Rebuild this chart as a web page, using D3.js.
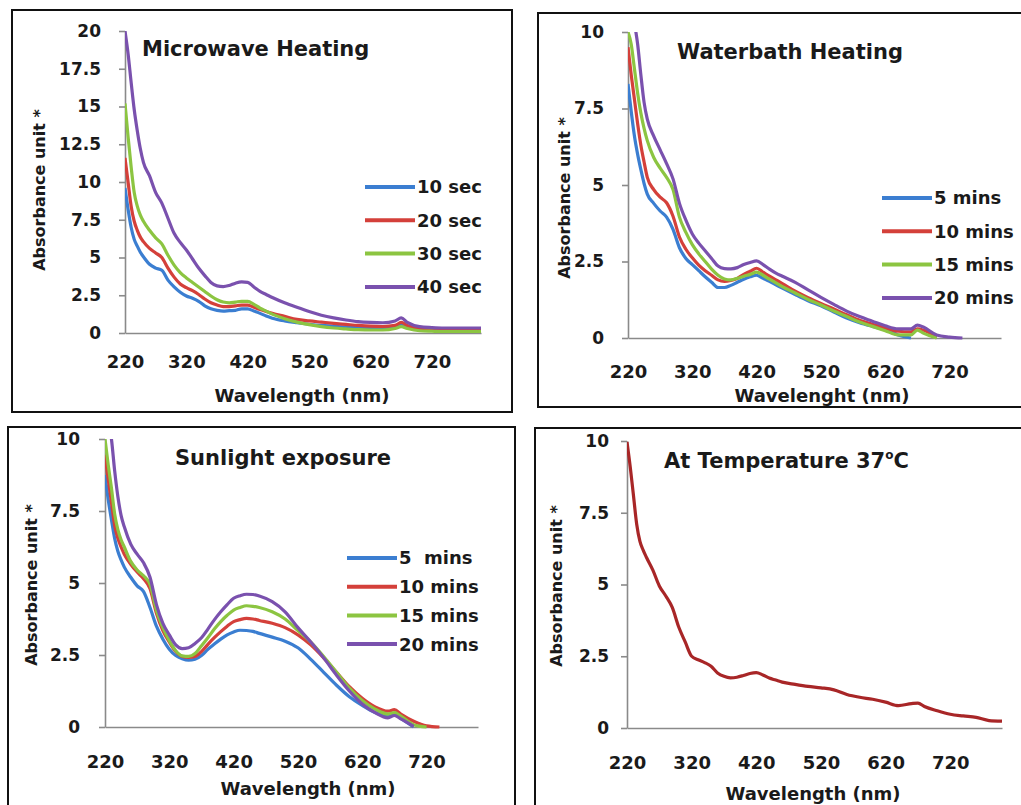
<!DOCTYPE html>
<html>
<head>
<meta charset="utf-8">
<script src="https://cdn.jsdelivr.net/npm/d3@7"></script>
<style>
  body { margin: 0; background: #fff; }
  svg text { font-family: "DejaVu Sans", sans-serif; font-weight: bold; fill: #1a1a1a; }
</style>
</head>
<body>
<div id="chart"></div>
<script>

// wavelength grid (nm) shared by every curve
var wavelength = [220,225,230,235,240,245,250,260,270,280,290,300,310,320,330,340,350,360,370,380,
  390,400,410,420,430,440,450,460,480,500,520,540,560,580,600,620,640,660,670,680,700,720,740,760,780,800];
var xTicks = [220,320,420,520,620,720];

// Microwave heating
var mw10 = [9.6,8.2,7.0,6.2,5.75,5.35,5.05, 4.55,4.3,4.15,3.5,3.05,2.7,2.45,2.3,2.1,1.8,1.6,1.5,1.45,1.48,1.5,1.6,1.6,1.45,1.3,1.12,0.98,
  0.8,0.68,0.58,0.5,0.45,0.4,0.38,0.35,0.33,0.4, 0.5,0.38, 0.3,0.28,0.27,0.27,0.27,0.27];
var mw20 = [11.6,10.0,8.4,7.4,6.8,6.35,6.05, 5.6,5.3,5.0,4.3,3.7,3.25,3.0,2.8,2.55,2.25,2.0,1.85,1.75,1.75,1.8,1.85,1.85,1.7,1.55,1.42,1.3,
  1.1,0.9,0.8,0.72,0.64,0.57,0.5,0.45,0.43,0.5, 0.7,0.5, 0.3,0.25,0.2,0.18,0.16,0.15];
var mw30 = [15.2,13.0,11.0,9.3,8.4,7.8,7.4, 6.8,6.3,5.9,5.15,4.5,4.0,3.65,3.35,3.05,2.75,2.45,2.2,2.05,2.0,2.05,2.1,2.1,1.9,1.65,1.45,1.25,
  0.95,0.72,0.55,0.42,0.33,0.27,0.22,0.2,0.2,0.3, 0.42,0.3, 0.15,0.12,0.1,0.1,0.1,0.1];
var mw40 = [20.0,18.5,16.6,14.8,13.4,12.2,11.3, 10.4,9.3,8.6,7.6,6.6,6.0,5.5,4.9,4.3,3.8,3.35,3.12,3.07,3.15,3.3,3.38,3.35,3.05,2.75,2.55,2.35,
  2.0,1.7,1.42,1.18,1.0,0.86,0.75,0.7,0.68,0.8, 1.0,0.7, 0.42,0.36,0.33,0.33,0.33,0.33];
var mwLabels = ["10 sec","20 sec","30 sec","40 sec"];
var mwTicks = [0,2.5,5,7.5,10,12.5,15,17.5,20];

// Waterbath heating
var wb5 = [8.3,7.4,6.6,6.0,5.5,5.05,4.7, 4.4,4.15,3.95,3.55,2.95,2.6,2.4,2.2,2.0,1.82,1.65,1.65,1.72,1.82,1.92,2.0,2.05,1.95,1.85,1.74,1.63,
  1.42,1.22,1.05,0.85,0.65,0.5,0.38,0.27,0.1,0.0, null,null, null,null,null,null,null,null];
var wb10 = [9.5,8.6,7.8,7.0,6.3,5.75,5.25, 4.85,4.6,4.42,3.98,3.3,2.9,2.62,2.38,2.2,2.05,1.9,1.85,1.88,1.95,2.08,2.18,2.28,2.15,2.02,1.9,1.78,
  1.53,1.32,1.13,0.95,0.76,0.58,0.45,0.33,0.22,0.2, 0.3,0.25, 0.02,null,null,null,null,null];
var wb15 = [10.0,9.6,8.8,8.0,7.35,6.85,6.45, 5.9,5.55,5.25,4.85,3.95,3.45,3.05,2.75,2.5,2.25,2.05,1.93,1.9,1.95,2.02,2.08,2.15,2.05,1.92,1.8,1.68,
  1.47,1.26,1.08,0.88,0.7,0.52,0.38,0.24,0.1,0.1, 0.26,0.15, 0.0,null,null,null,null,null];
var wb20 = [11.8,11.0,10.3,9.6,8.6,7.7,7.15, 6.6,6.15,5.7,5.2,4.4,3.85,3.4,3.1,2.85,2.6,2.35,2.27,2.26,2.3,2.4,2.47,2.52,2.4,2.25,2.12,2.02,
  1.82,1.57,1.33,1.1,0.88,0.7,0.55,0.4,0.3,0.3, 0.42,0.35, 0.1,0.03,0.0,null,null,null];
var wbLabels = ["5 mins","10 mins","15 mins","20 mins"];

// Sunlight exposure
var sl5 = [8.75,7.9,7.2,6.55,6.1,5.8,5.55, 5.2,4.9,4.7,4.15,3.5,3.05,2.7,2.48,2.37,2.32,2.35,2.48,2.7,2.88,3.05,3.2,3.3,3.36,3.35,3.32,3.25,
  3.12,2.98,2.75,2.35,1.9,1.45,1.05,0.75,0.5,0.38, 0.45,0.3, 0.0,null,null,null,null,null];
var sl10 = [9.45,8.6,7.8,7.0,6.55,6.25,6.0, 5.65,5.38,5.15,4.8,3.95,3.35,2.95,2.62,2.45,2.42,2.45,2.62,2.87,3.1,3.31,3.5,3.66,3.73,3.77,3.75,3.7,
  3.6,3.45,3.2,2.85,2.4,1.9,1.4,1.0,0.7,0.55, 0.6,0.45, 0.2,0.04,0.0,null,null,null];
var sl15 = [10.0,9.1,8.3,7.4,6.85,6.5,6.25, 5.75,5.45,5.25,4.95,4.05,3.45,3.0,2.65,2.47,2.45,2.55,2.82,3.1,3.4,3.66,3.88,4.06,4.15,4.21,4.19,4.15,
  4.0,3.75,3.35,2.95,2.45,1.9,1.35,0.92,0.62,0.45, 0.5,0.38, 0.08,0.0,null,null,null,null];
var sl20 = [11.5,10.6,10.0,8.9,8.0,7.35,6.95, 6.35,6.0,5.7,5.2,4.25,3.6,3.2,2.85,2.72,2.75,2.9,3.1,3.4,3.72,4.0,4.25,4.47,4.56,4.61,4.6,4.55,
  4.35,4.0,3.45,2.95,2.4,1.8,1.25,0.8,0.5,0.32, 0.4,0.28, 0.02,null,null,null,null,null];
var slLabels = ["5  mins","10 mins","15 mins","20 mins"];

// At temperature 37 C
var t37 = [9.97,9.1,8.1,7.1,6.5,6.2,5.95, 5.5,4.95,4.6,4.2,3.52,3.0,2.5,2.38,2.28,2.15,1.92,1.8,1.75,1.77,1.83,1.9,1.93,1.85,1.74,1.67,1.6,
  1.52,1.45,1.4,1.33,1.17,1.07,1.0,0.9,0.78,0.85, 0.87,0.75, 0.6,0.48,0.42,0.37,0.26,0.24];

var tenTicks = [0,2.5,5,7.5,10];
var fourColors = ["#3b7ed1","#d4403a","#8cc541","#7a51ae"];
var darkRed = "#a82627";

var svg = d3.select("#chart").append("svg")
  .attr("width", 1021)
  .attr("height", 805);

var panels = [
  { title: "Microwave Heating", xTitle: "Wavelength (nm)", yMax: 20, yTicks: mwTicks,
    series: [mw10, mw20, mw30, mw40], labels: mwLabels, colors: fourColors,
    frame: [12, 10, 500, 402], left: 125, right: 481, bottom: 333, top: 31,
    yPad: 18, xPad: 22, titlePos: [142, 56], xTitlePos: [302, 402], yTitlePos: [45, 190],
    legend: { x: 365, y: 187, step: 33.3 } },
  { title: "Waterbath Heating", xTitle: "Wavelenght (nm)", yMax: 10, yTicks: tenTicks,
    series: [wb5, wb10, wb15, wb20], labels: wbLabels, colors: fourColors,
    frame: [538, 13, 500, 394], left: 628, right: 1001, bottom: 338, top: 32,
    yPad: 18, xPad: 27, titlePos: [677, 59], xTitlePos: [822, 402], yTitlePos: [570, 198],
    legend: { x: 882, y: 198, step: 33.3 } },
  { title: "Sunlight exposure", xTitle: "Wavelength (nm)", yMax: 10, yTicks: tenTicks,
    series: [sl5, sl10, sl15, sl20], labels: slLabels, colors: fourColors,
    frame: [8, 427, 507, 400], left: 105, right: 478, bottom: 727, top: 439,
    yPad: 19, xPad: 28, titlePos: [175, 465], xTitlePos: [308, 795], yTitlePos: [37, 585],
    legend: { x: 347, y: 558, step: 28.7 } },
  { title: "At Temperature 37", xTitle: "Wavelength (nm)", yMax: 10, yTicks: tenTicks,
    series: [t37], labels: null, colors: [darkRed],
    frame: [535, 428, 500, 400], left: 627, right: 1002, bottom: 728, top: 441,
    yPad: 12, xPad: 28, titlePos: [664, 468], xTitlePos: [813, 800], yTitlePos: [562, 586],
    legend: null }
];

panels.forEach(function(p, pi) {

  var g = svg.append("g");

  g.append("rect")
    .attr("x", p.frame[0]).attr("y", p.frame[1])
    .attr("width", p.frame[2]).attr("height", p.frame[3])
    .attr("fill", "none")
    .attr("stroke", "#111")
    .attr("stroke-width", 2);

  var x = d3.scaleLinear().domain([220, 800]).range([p.left, p.right]);
  var y = d3.scaleLinear().domain([0, p.yMax]).range([p.bottom, p.top]);

  // y axis
  var yAxis = g.append("g")
    .attr("transform", "translate(" + p.left + ",0)")
    .call(d3.axisLeft(y).tickValues(p.yTicks).tickSize(6).tickSizeOuter(0).tickPadding(p.yPad)
      .tickFormat(function(d) { return d; }));
  yAxis.select(".domain").attr("stroke", "#8a8a8a").attr("stroke-width", 1.6);
  yAxis.selectAll(".tick line").attr("stroke", "#8a8a8a").attr("stroke-width", 1.6);
  yAxis.selectAll(".tick text")
    .style("font-size", "17px")
    .attr("fill", "#1a1a1a");

  // x axis
  var xAxis = g.append("g")
    .attr("transform", "translate(0," + p.bottom + ")")
    .call(d3.axisBottom(x).tickValues(xTicks).tickSize(0).tickPadding(p.xPad));
  xAxis.select(".domain").attr("stroke", "#8a8a8a").attr("stroke-width", 1.6);
  xAxis.selectAll(".tick text")
    .style("font-size", "18px")
    .attr("fill", "#1a1a1a");

  // clip the curves to the plot area
  g.append("clipPath")
    .attr("id", "clip" + pi)
    .append("rect")
    .attr("x", p.left)
    .attr("y", p.top)
    .attr("width", p.right - p.left + 4)
    .attr("height", p.bottom - p.top + 2);

  var line = d3.line()
    .defined(function(d) { return d[1] != null; })
    .x(function(d) { return x(d[0]); })
    .y(function(d) { return y(d[1]); })
    .curve(d3.curveMonotoneX);

  var curves = g.append("g").attr("clip-path", "url(#clip" + pi + ")");
  p.series.forEach(function(s, i) {
    curves.append("path")
      .datum(wavelength.map(function(w, j) { return [w, s[j]]; }))
      .attr("fill", "none")
      .attr("stroke", p.colors[i])
      .attr("stroke-width", 3.2)
      .attr("stroke-linejoin", "round")
      .attr("d", line);
  });

  // titles
  var t = g.append("text")
    .attr("x", p.titlePos[0])
    .attr("y", p.titlePos[1])
    .style("font-size", "21px")
    .text(p.title);
  if (pi == 3) {
    t.append("tspan").attr("dy", -9).style("font-size", "12px").text("o");
    t.append("tspan").attr("dy", 9).text("C");
  }

  g.append("text")
    .attr("x", p.xTitlePos[0])
    .attr("y", p.xTitlePos[1])
    .attr("text-anchor", "middle")
    .style("font-size", "18px")
    .text(p.xTitle);

  g.append("text")
    .attr("transform", "translate(" + p.yTitlePos[0] + "," + p.yTitlePos[1] + ") rotate(-90)")
    .attr("text-anchor", "middle")
    .style("font-size", "16px")
    .text("Absorbance unit *");

  // legend
  if (p.legend) {
    p.labels.forEach(function(lab, i) {
      var ly = p.legend.y + i * p.legend.step;
      g.append("line")
        .attr("x1", p.legend.x).attr("x2", p.legend.x + 50)
        .attr("y1", ly).attr("y2", ly)
        .attr("stroke", p.colors[i])
        .attr("stroke-width", 4);
      g.append("text")
        .attr("x", p.legend.x + 52)
        .attr("y", ly)
        .attr("dy", "0.36em")
        .style("font-size", "18px")
        .style("white-space", "pre")
        .text(lab);
    });
  }
});

</script>
</body>
</html>
